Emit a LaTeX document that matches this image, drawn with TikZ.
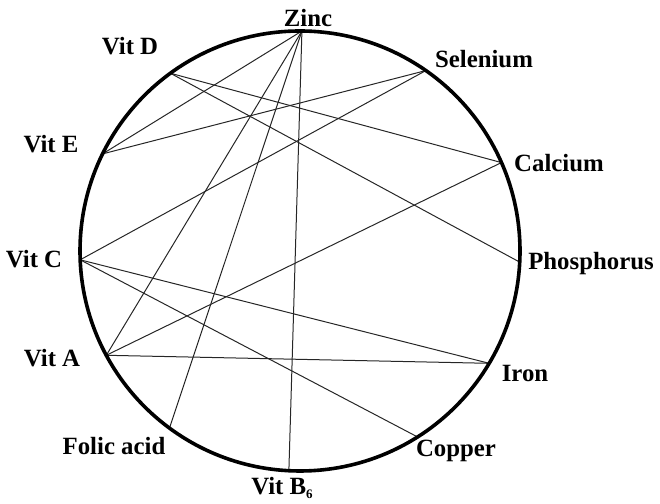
\documentclass[tikz,border=0pt]{standalone}
\usepackage{fontspec}
\setmainfont{Liberation Serif}
\begin{document}
\begin{tikzpicture}[x=1bp,y=1bp,
  lbl/.style={anchor=base,inner sep=0pt,font=\fontsize{24.8bp}{29bp}\selectfont\bfseries},
  rim/.style={line width=3.6bp},
  link/.style={line width=1bp,black!85}]
\useasboundingbox (0,0) rectangle (660,504);
\coordinate (c) at (300,253);
% points on the rim
\path (c) ++(89.5:220)  coordinate (zn);
\path (c) ++(55.1:220)  coordinate (se);
\path (c) ++(126.1:220) coordinate (vd);
\path (c) ++(153.8:220) coordinate (ve);
\path (c) ++(23.7:220)  coordinate (ca);
\path (c) ++(-2.9:220)  coordinate (ph);
\path (c) ++(182.3:220) coordinate (vc);
\path (c) ++(208.3:220) coordinate (va);
\path (c) ++(-30.7:220) coordinate (fe);
\path (c) ++(-57.7:220) coordinate (cu);
\path (c) ++(233.6:220) coordinate (fa);
\path (c) ++(267.1:220) coordinate (vb);
% connectors
\draw[link] (zn) -- (ve);
\draw[link] (zn) -- (va);
\draw[link] (zn) -- (fa);
\draw[link] (zn) -- (vb);
\draw[link] (se) -- (ve);
\draw[link] (se) -- (vc);
\draw[link] (vd) -- (ca);
\draw[link] (vd) -- (ph);
\draw[link] (ca) -- (va);
\draw[link] (vc) -- (fe);
\draw[link] (vc) -- (cu);
\draw[link] (va) -- (fe);
% rim
\draw[rim] (c) circle[radius=220];
% labels
\node[lbl] (lzn) at (308,477) {Zinc};
\node[lbl] (lvd) at (130,449) {Vit D};
\node[lbl] (lse) at (484,436) {Selenium};
\node[lbl] (lve) at (51,351) {Vit E};
\node[lbl] (lca) at (559,332) {Calcium};
\node[lbl] (lph) at (591,234) {Phosphorus};
\node[lbl] (lvc) at (34,236) {Vit C};
\node[lbl] (lva) at (52,137) {Vit A};
\node[lbl] (lfe) at (525,122) {Iron};
\node[lbl] (lcu) at (456,47) {Copper};
\node[lbl] (lfa) at (114,49) {Folic acid};
\node[lbl] (lvb) at (282,9) {Vit B\raisebox{-4bp}{\fontsize{13bp}{13bp}\selectfont 6}};
\end{tikzpicture}
\end{document}
